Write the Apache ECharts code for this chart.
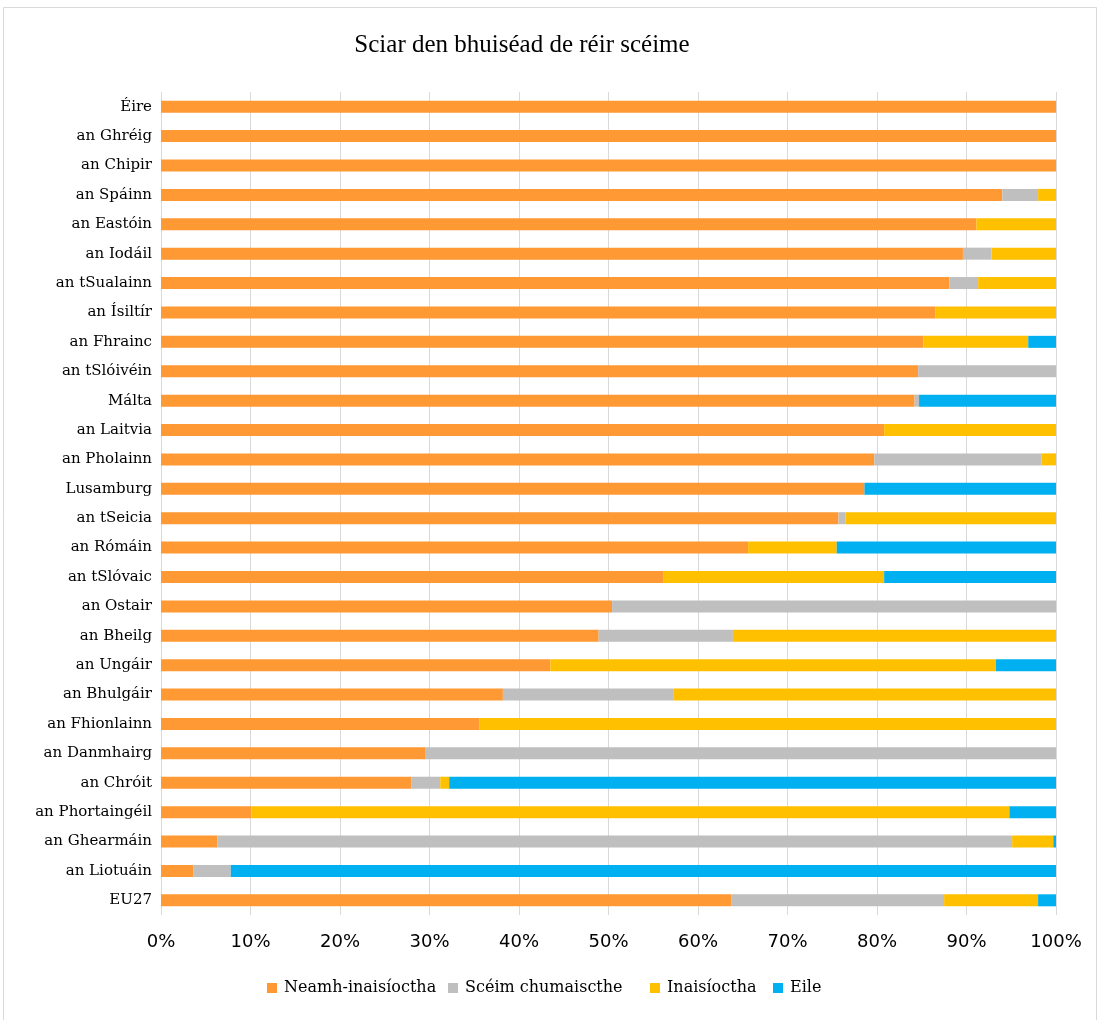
<!DOCTYPE html>
<html>
<head>
<meta charset="utf-8">
<script src="https://cdn.jsdelivr.net/npm/echarts@6/dist/echarts.min.js"></script>
<style>html,body{margin:0;padding:0;background:#fff;}#c{width:1099px;height:1020px;}</style>
</head>
<body>
<div id="c"></div>
<script>
const categories = ["Éire","an Ghréig","an Chipir","an Spáinn","an Eastóin","an Iodáil","an tSualainn","an Ísiltír","an Fhrainc","an tSlóivéin","Málta","an Laitvia","an Pholainn","Lusamburg","an tSeicia","an Rómáin","an tSlóvaic","an Ostair","an Bheilg","an Ungáir","an Bhulgáir","an Fhionlainn","an Danmhairg","an Chróit","an Phortaingéil","an Ghearmáin","an Liotuáin","EU27"];
const neamhInaisiocta = [100,100,100,94.0,91.1,89.6,88.1,86.5,85.2,84.6,84.2,80.8,79.7,78.6,75.7,65.6,56.1,50.4,48.9,43.5,38.2,35.6,29.5,28.0,10.1,6.3,3.6,63.7];
const sceimChumaiscthe = [0,0,0,4.0,0,3.2,3.2,0,0,15.4,0.5,0,18.7,0,0.8,0,0,49.6,15.0,0,19.1,0,70.5,3.2,0,88.8,4.2,23.8];
const inaisioctha = [0,0,0,2.0,8.9,7.2,8.7,13.5,11.7,0,0,19.2,1.6,0,23.5,9.9,24.7,0,36.1,49.8,42.7,64.4,0,1.0,84.7,4.6,0,10.5];
const eile = [0,0,0,0,0,0,0,0,3.1,0,15.3,0,0,21.4,0,24.5,19.2,0,0,6.7,0,0,0,67.8,5.2,0.3,92.2,2.0];
const seriesNames = ["Neamh-inaisíoctha","Scéim chumaiscthe","Inaisíoctha","Eile"];
const xTicks = [0,10,20,30,40,50,60,70,80,90,100];
const colors = ["#FF9933","#BFBFBF","#FFC000","#00B0F0"];

const chart = echarts.init(document.getElementById('c'));
const serif = '"DejaVu Serif", "Liberation Serif", serif';
const mk = (name, data, i) => ({
  name, type: 'bar', stack: 'total', data, barWidth: 12,
  itemStyle: { color: colors[i] }, emphasis: { disabled: true }
});
const legendLefts = [267, 448, 650, 773];
chart.setOption({
  animation: false,
  backgroundColor: '#fff',
  title: {
    text: 'Sciar den bhuiséad de réir scéime',
    left: 517, top: 28, textAlign: 'center',
    textStyle: { fontFamily: '"Liberation Serif", serif', fontSize: 25, fontWeight: 'normal', color: '#000' }
  },
  graphic: [{
    type: 'rect', shape: { x: 3.5, y: 7.5, width: 1093, height: 1030 },
    style: { fill: 'none', stroke: '#D9D9D9', lineWidth: 1 }, silent: true
  }],
  legend: seriesNames.map((n, i) => ({
    left: legendLefts[i], top: 980, itemWidth: 10, itemHeight: 10,
    icon: 'rect', padding: 0,
    textStyle: { fontFamily: serif, fontSize: 16, color: '#000', padding: [0,0,0,2] },
    data: [n]
  })),
  grid: { left: 161, right: 43, top: 92, bottom: 105 },
  xAxis: {
    type: 'value', min: 0, max: 100, interval: 10,
    axisLine: { show: false }, axisTick: { show: false },
    splitLine: { show: true, lineStyle: { color: '#D9D9D9', width: 1 } },
    axisLabel: { formatter: v => v + '%', fontFamily: '"DejaVu Sans", sans-serif', fontSize: 18, color: '#000', margin: 18 }
  },
  yAxis: {
    type: 'category', data: categories, inverse: true,
    axisLine: { show: false }, axisTick: { show: false },
    axisLabel: { fontFamily: serif, fontSize: 15, color: '#000', margin: 9 }
  },
  series: [
    mk(seriesNames[0], neamhInaisiocta, 0),
    mk(seriesNames[1], sceimChumaiscthe, 1),
    mk(seriesNames[2], inaisioctha, 2),
    mk(seriesNames[3], eile, 3)
  ]
});
</script>
</body>
</html>
